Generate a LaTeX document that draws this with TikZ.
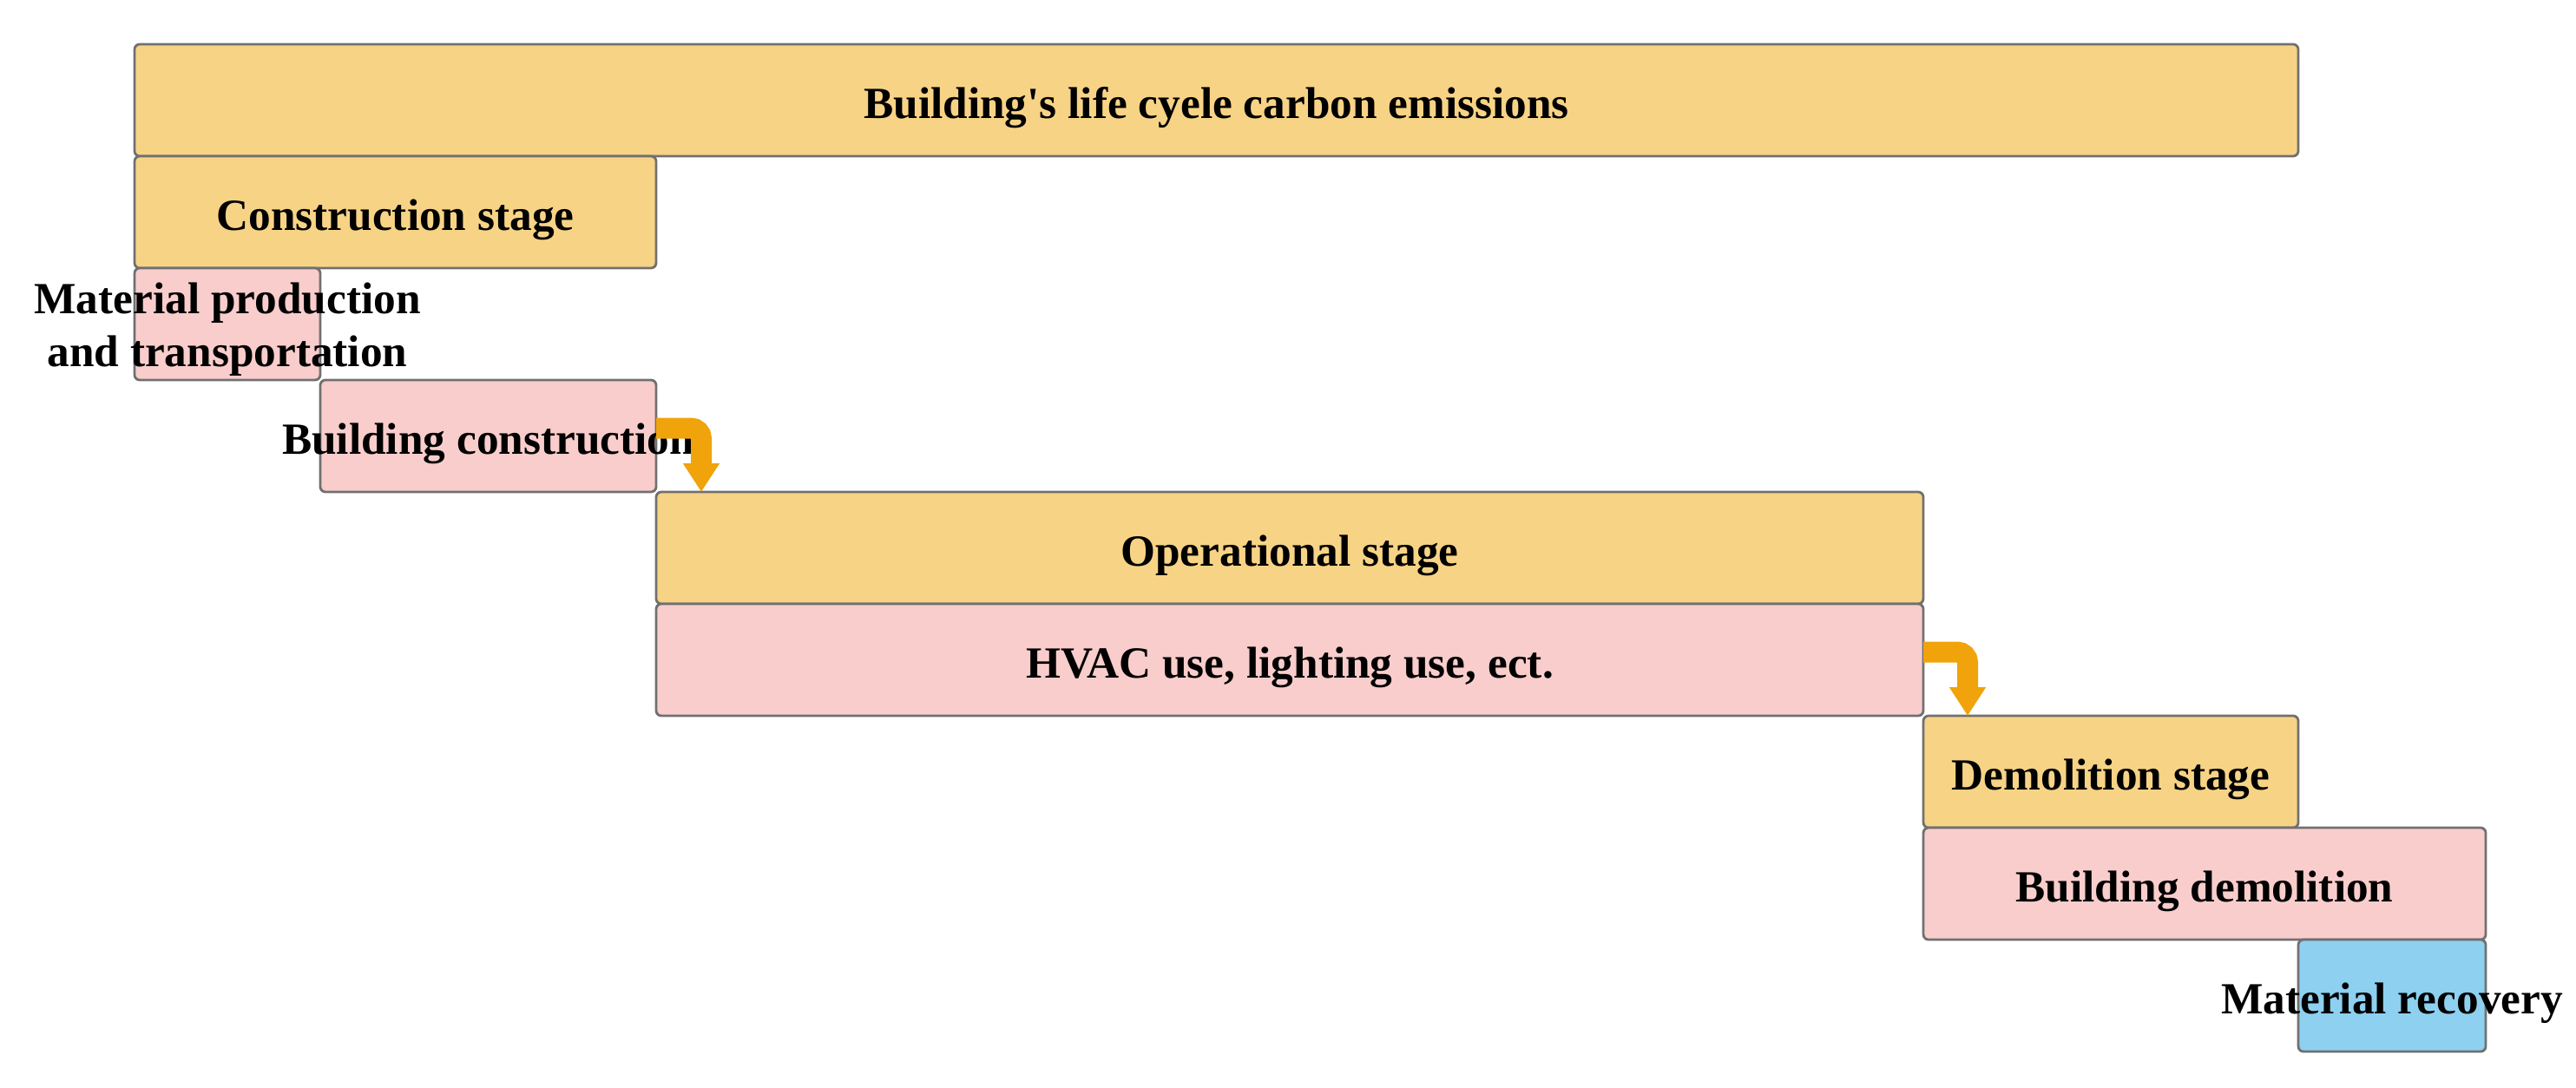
\documentclass[tikz,border=0pt]{standalone}
\usepackage{fontspec}
\setmainfont{Liberation Serif}
\usetikzlibrary{positioning,arrows.meta}

\definecolor{stagefill}{HTML}{F7D386}
\definecolor{partfill}{HTML}{F8CDCC}
\definecolor{recfill}{HTML}{8ED0F0}
\definecolor{edgegray}{HTML}{707070}
\definecolor{flowcol}{HTML}{F0A30A}

\tikzset{
  boxtext/.style={font=\fontsize{14.6}{17.5}\selectfont\bfseries,
    text height=11.9pt, text depth=0pt},
  box/.style={draw=edgegray, line width=0.8pt, rounded corners=0.6mm,
    minimum height=1.29cm, inner sep=0pt, outer sep=0pt, boxtext},
  stage/.style={box, fill=stagefill},
  part/.style={box, fill=partfill},
  recov/.style={box, fill=recfill},
  flow/.style={draw=flowcol, line width=2.4mm, rounded corners=1.2mm,
    -{Triangle[width=4mm,length=3.3mm]}},
}

\begin{document}
\begin{tikzpicture}

\useasboundingbox (0,0) rectangle (29.68,-12.53);

\node[stage, minimum width=24.93cm, anchor=north west] (life) at (1.55,-0.51)
  {Building\textquotesingle s life cyele carbon emissions};
\node[stage, minimum width=6.01cm, below right=0pt of life.south west] (cons)
  {Construction stage};
\node[part, minimum width=2.14cm, below right=0pt of cons.south west,
  label={[align=center, font=\fontsize{14.6}{17.5}\selectfont\bfseries, yshift=-0.06cm]center:Material production\\and transportation}] (mat) {};
\node[part, minimum width=3.87cm, below right=0pt of mat.south east,
  label={[boxtext]center:Building construction}] (bcon) {};

\node[stage, minimum width=14.60cm, below right=0pt of bcon.south east] (oper)
  {Operational stage};
\node[part, minimum width=14.60cm, below right=0pt of oper.south west] (hvac)
  {HVAC use, lighting use, ect.};

\node[stage, minimum width=4.32cm, below right=0pt of hvac.south east] (demo)
  {Demolition stage};
\node[part, minimum width=6.48cm, below right=0pt of demo.south west] (bdem)
  {Building demolition};
\node[recov, minimum width=2.16cm, below left=0pt of bdem.south east,
  label={[boxtext]center:Material recovery}] (recv) {};

% stage to stage
\draw[flow] ([yshift=0.09cm]bcon.east) -| ([xshift=0.52cm]oper.north west);
\draw[flow] ([yshift=0.09cm]hvac.east) -| ([xshift=0.51cm]demo.north west);

\end{tikzpicture}
\end{document}
